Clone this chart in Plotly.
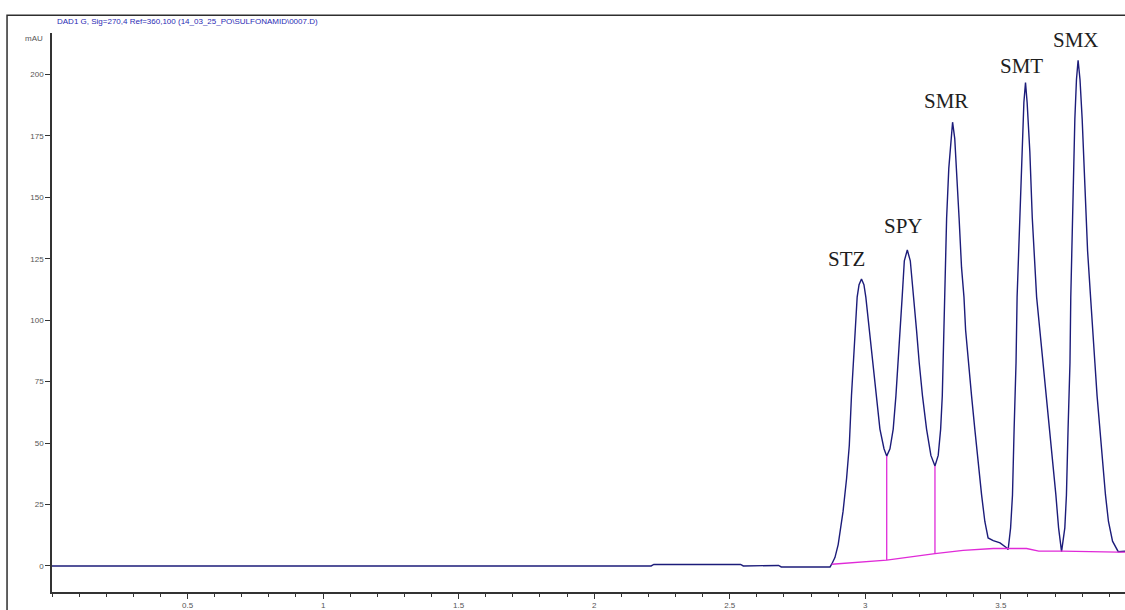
import plotly.graph_objects as go

# Chromatogram trace: retention time (min) and detector response (mAU)
time_min = [
    0.000, 2.210, 2.220, 2.540, 2.550, 2.610, 2.620, 2.680, 2.690, 2.870,
    2.876, 2.888, 2.900, 2.918, 2.931, 2.941, 2.949, 2.955, 2.963, 2.970, 2.977, 2.986, 2.995, 3.002,
    3.015, 3.027, 3.039, 3.054, 3.069, 3.079, 3.091, 3.103, 3.113, 3.121, 3.130, 3.136, 3.144, 3.155, 3.166, 3.179,
    3.189, 3.199, 3.211, 3.226, 3.242, 3.257, 3.269, 3.278, 3.284, 3.287, 3.290, 3.293,
    3.300, 3.308, 3.316, 3.322, 3.330, 3.337, 3.346, 3.355, 3.364,
    3.370, 3.380, 3.392, 3.404, 3.416, 3.429, 3.441, 3.453, 3.472, 3.497, 3.521, 3.527,
    3.536, 3.543, 3.549, 3.556, 3.560, 3.570, 3.577, 3.585, 3.591, 3.597, 3.607, 3.616, 3.632,
    3.644, 3.654, 3.666, 3.678, 3.691, 3.703, 3.713, 3.724, 3.736, 3.742, 3.748, 3.755, 3.758,
    3.767, 3.773, 3.779, 3.785, 3.792, 3.800, 3.810, 3.820, 3.831,
    3.838, 3.847, 3.855, 3.865, 3.875, 3.886, 3.897, 3.912, 3.933, 3.958,
]
signal_mau = [
    0.0, 0.0, 0.6, 0.6, 0.0, 0.0, 0.2, 0.2, -0.4, -0.4,
    0.7, 3.4, 8.7, 22.2, 35.6, 49.0, 69.2, 82.6, 96.0, 109.4, 114.5, 116.8, 114.5, 109.4,
    96.0, 82.6, 69.2, 55.7, 47.7, 44.7, 47.7, 55.7, 69.2, 82.6, 96.0, 109.4, 124.2, 128.6, 124.2, 109.4,
    96.0, 82.6, 69.2, 55.7, 45.0, 40.7, 45.0, 55.7, 69.2, 82.6, 96.0, 109.4,
    141.6, 161.8, 173.9, 180.6, 173.9, 161.8, 141.6, 121.5, 109.4,
    96.0, 82.6, 69.2, 55.7, 42.3, 28.9, 18.1, 11.4, 10.3, 9.4, 7.4, 6.7,
    15.5, 28.9, 55.7, 82.6, 109.4, 141.6, 168.5, 188.6, 196.7, 188.6, 168.5, 141.6, 109.4,
    96.0, 82.6, 69.2, 55.7, 42.3, 28.9, 15.5, 5.8, 15.5, 28.9, 55.7, 82.6, 109.4,
    155.0, 181.9, 198.0, 205.8, 198.0, 181.9, 155.0, 128.2, 109.4,
    96.0, 82.6, 69.2, 55.7, 42.3, 28.9, 18.1, 10.1, 5.8, 6.0,
]

# Integration baseline
baseline_time = [2.876, 3.079, 3.257, 3.361, 3.472, 3.527, 3.595, 3.640, 3.724, 3.933, 3.958]
baseline_mau = [0.7, 2.4, 5.0, 6.3, 7.1, 7.1, 7.1, 6.0, 6.0, 5.6, 5.6]

# Valley drop lines (time, top on trace, bottom on baseline)
drop_time = [3.079, 3.257]
drop_top = [44.7, 40.7]
drop_bottom = [2.4, 5.0]

# Peak names and label positions
peak_names = ["STZ", "SPY", "SMR", "SMT", "SMX"]
peak_label_time = [2.931, 3.140, 3.297, 3.577, 3.779]
peak_label_mau = [124.9, 138.3, 189.3, 203.4, 214.1]

y_ticks = [0, 25, 50, 75, 100, 125, 150, 175, 200]
x_ticks = [0.5, 1, 1.5, 2, 2.5, 3, 3.5]
x_tick_text = ["0.5", "1", "1.5", "2", "2.5", "3", "3.5"]

title_text = "DAD1 G, Sig=270,4 Ref=360,100 (14_03_25_PO\\SULFONAMID\\0007.D)"

LINE_BLUE = "#1c1c7a"
MAGENTA = "#e02ad8"
AXIS = "#333333"

fig = go.Figure()

fig.add_trace(go.Scatter(
    x=time_min, y=signal_mau, mode="lines",
    line=dict(color=LINE_BLUE, width=1.4), hoverinfo="skip",
))

fig.add_trace(go.Scatter(
    x=baseline_time, y=baseline_mau, mode="lines",
    line=dict(color=MAGENTA, width=1.3), hoverinfo="skip",
))

for t, top, bot in zip(drop_time, drop_top, drop_bottom):
    fig.add_trace(go.Scatter(
        x=[t, t], y=[top, bot], mode="lines",
        line=dict(color=MAGENTA, width=1.3), hoverinfo="skip",
    ))

annotations = []
for name, t, v in zip(peak_names, peak_label_time, peak_label_mau):
    annotations.append(dict(
        x=t, y=v, xref="x", yref="y", text=name, showarrow=False,
        font=dict(family="Liberation Serif", size=21, color="#1e1e1e"),
        xanchor="center", yanchor="middle",
    ))

# Signal description line above the plot
annotations.append(dict(
    x=0.003, y=1.0212, xref="paper", yref="paper", text=title_text,
    showarrow=False, xanchor="left", yanchor="middle",
    font=dict(family="Liberation Sans", size=8, color="#2a2ab4"),
))
# Unit label
annotations.append(dict(
    x=-0.0065, y=0.991, xref="paper", yref="paper", text="mAU",
    showarrow=False, xanchor="right", yanchor="middle",
    font=dict(family="Liberation Sans", size=8, color="#555555"),
))

fig.update_layout(
    width=1125, height=610,
    margin=dict(l=52, r=0, t=33, b=12),
    paper_bgcolor="white", plot_bgcolor="white",
    showlegend=False,
    annotations=annotations,
    shapes=[dict(
        type="rect", xref="paper", yref="paper",
        x0=-0.0419, x1=1.01, y0=-0.05, y1=1.0319,
        line=dict(color="#2e2e2e", width=1.5), fillcolor="rgba(0,0,0,0)",
        layer="below",
    )],
    xaxis=dict(
        range=[0, 3.958], showgrid=False, zeroline=False,
        showline=True, linecolor=AXIS, linewidth=1.5,
        tickmode="array", tickvals=x_ticks, ticktext=x_tick_text,
        ticks="outside", ticklen=5, tickwidth=1.2, tickcolor=AXIS,
        tickfont=dict(family="Liberation Sans", size=8, color="#555555"),
        minor=dict(dtick=0.1, ticks="outside", ticklen=3, tickwidth=1, tickcolor=AXIS, showgrid=False),
    ),
    yaxis=dict(
        range=[-10.6, 216.9], showgrid=False, zeroline=False,
        showline=True, linecolor=AXIS, linewidth=1.5,
        tickmode="array", tickvals=y_ticks, ticktext=[str(v) for v in y_ticks],
        ticks="outside", ticklen=5, tickwidth=1.2, tickcolor=AXIS,
        tickfont=dict(family="Liberation Sans", size=8, color="#555555"),
    ),
)

fig.write_html("out.html")
